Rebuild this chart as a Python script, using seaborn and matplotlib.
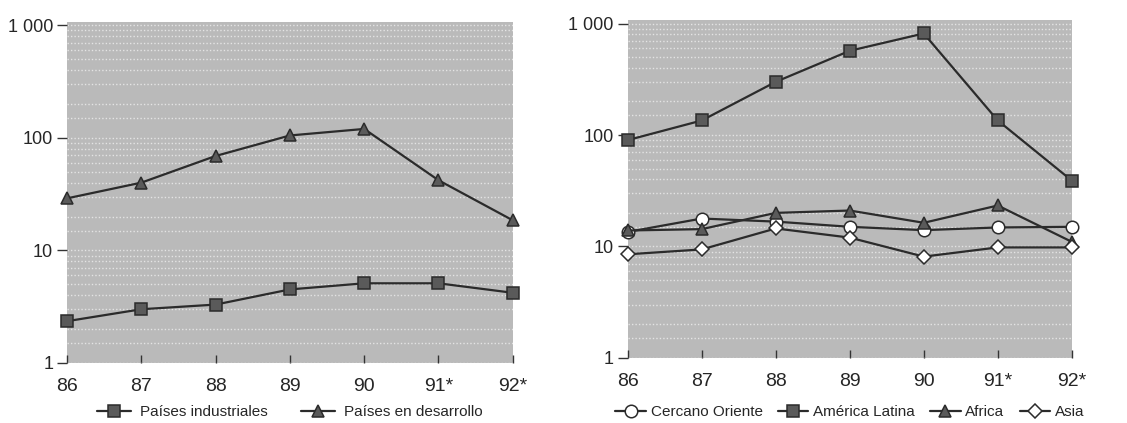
import matplotlib
matplotlib.use("Agg")
import matplotlib.pyplot as plt
import seaborn as sns
import pandas as pd
from matplotlib.ticker import FixedLocator, NullFormatter

years = [86, 87, 88, 89, 90, 91, 92]
year_labels = ["86", "87", "88", "89", "90", "91*", "92*"]

# panel izquierdo
industriales = [2.35, 3.0, 3.3, 4.5, 5.1, 5.1, 4.2]
desarrollo = [29, 40, 69, 105, 120, 42, 18.5]

# panel derecho
cercano_oriente = [13.5, 17.8, 16.7, 15, 14, 14.8, 15]
america_latina = [90, 135, 300, 570, 815, 135, 39]
africa = [13.9, 14.3, 20, 21, 16.3, 23.3, 11]
asia = [8.5, 9.4, 14.5, 12, 8.1, 9.8, 9.8]

sns.set_style("white")
plt.rcParams["font.family"] = ["Liberation Sans", "DejaVu Sans"]

fig = plt.figure(figsize=(11.27, 4.23), dpi=100)
ax1 = fig.add_axes([0.0595, 0.142, 0.3955, 0.806])
ax2 = fig.add_axes([0.557, 0.154, 0.394, 0.798])

LINE = "#2b2b2b"
DARK = "#5a5a5a"

styles = {
    "Países industriales": dict(marker="s", mfc=DARK),
    "Países en desarrollo": dict(marker="^", mfc=DARK),
    "Cercano Oriente": dict(marker="o", mfc="white"),
    "América Latina": dict(marker="s", mfc=DARK),
    "Africa": dict(marker="^", mfc=DARK),
    "Asia": dict(marker="D", mfc="white"),
}


def draw(ax, series):
    for name, vals in series:
        df = pd.DataFrame({"year": years, "valor": vals})
        st = styles[name]
        ms = 7 if st["marker"] == "D" else 9
        sns.lineplot(data=df, x="year", y="valor", ax=ax, color=LINE, lw=1.6,
                     marker=st["marker"], markersize=ms, markerfacecolor=st["mfc"],
                     markeredgecolor=LINE, markeredgewidth=1.1, label=name,
                     clip_on=False, zorder=3)
    ax.set_yscale("log")
    ax.set_ylim(1, 1070)
    ax.set_xlim(86, 92)
    ax.set_facecolor("#bababa")
    ax.yaxis.set_major_locator(FixedLocator([1, 10, 100, 1000]))
    ax.set_yticklabels(["1", "10", "100", "1 000"])
    # bandas claras horizontales del tramado
    ax.yaxis.set_minor_locator(FixedLocator(
        [m * 10 ** e for e in range(0, 3) for m in (1.5, 2, 3, 4, 5, 6, 7, 8, 9)]))
    ax.yaxis.set_minor_formatter(NullFormatter())
    ax.set_xticks(years)
    ax.set_xticklabels(year_labels)
    ax.grid(True, which="both", axis="y", color="#e4e4e4", lw=1.0, ls=(0, (1, 1.5)))
    for s in ax.spines.values():
        s.set_visible(False)
    ax.tick_params(axis="y", which="major", direction="out", length=7, width=1,
                   color="#333333", labelsize=13, pad=3, left=True)
    ax.tick_params(axis="y", which="minor", length=0)
    ax.tick_params(axis="x", direction="in", length=6, width=1, color="#333333",
                   labelsize=14, pad=11, bottom=True)
    ax.set_xlabel("")
    ax.set_ylabel("")


draw(ax1, [("Países industriales", industriales), ("Países en desarrollo", desarrollo)])
draw(ax2, [("Cercano Oriente", cercano_oriente), ("América Latina", america_latina),
           ("Africa", africa), ("Asia", asia)])

ax1.legend(loc="center", bbox_to_anchor=(0.5, -0.145), ncol=2, frameon=False,
           fontsize=11, handlelength=2.2, columnspacing=2.2, handletextpad=0.6)
ax2.legend(loc="center", bbox_to_anchor=(0.5, -0.16), ncol=4, frameon=False,
           fontsize=11, handlelength=2.0, columnspacing=1.0, handletextpad=0.3)

fig.savefig("out.png", dpi=100)
